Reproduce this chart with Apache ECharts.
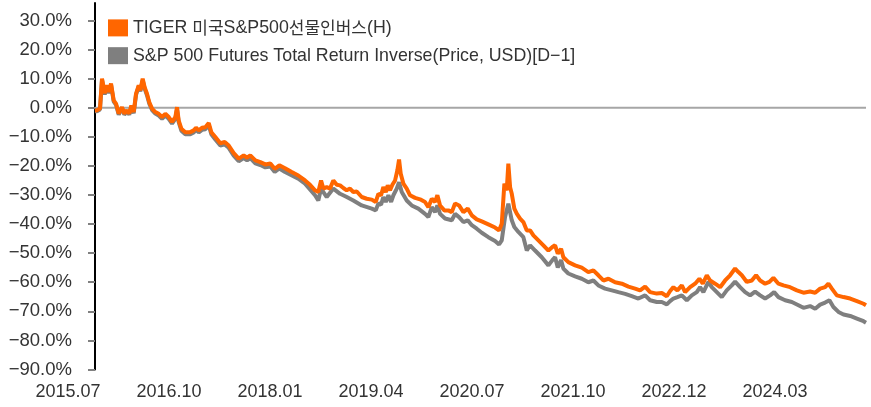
<!DOCTYPE html>
<html>
<head>
<meta charset="utf-8">
<script src="https://cdn.jsdelivr.net/npm/echarts@6/dist/echarts.min.js"></script>
<style>
  html, body { margin: 0; padding: 0; background: #fff; }
  #chart { width: 871px; height: 407px; }
</style>
</head>
<body>
<div id="chart"></div>
<script>
// x in nominal months since 2015.07 (label step = 15)
const tickPos = [0, 15, 30, 45, 60, 75, 90, 105];
const tickLabels = ['2015.07', '2016.10', '2018.01', '2019.04', '2020.07', '2021.10', '2022.12', '2024.03'];
const yTicks = [-90, -80, -70, -60, -50, -40, -30, -20, -10, 0, 10, 20, 30];

const tigerName = 'TIGER 미국S&P500선물인버스(H)';
const spxName = 'S&P 500 Futures Total Return Inverse(Price, USD)[D\u22121]';

const tigerX = [4.0, 4.3, 4.75, 5.05, 5.45, 5.79, 6.09, 6.39, 6.79, 7.13, 7.53, 8.02, 8.36, 8.76, 9.10, 9.40, 9.76,
  10.10, 10.50, 10.74, 11.09, 11.39, 11.73, 12.07, 12.48, 12.97, 13.47, 13.96, 14.45, 14.96, 15.45, 15.94, 16.19,
  16.44, 16.83, 17.42, 18.16, 18.67, 19.01, 19.41, 19.90, 20.39, 20.90, 21.28, 21.88, 22.62, 23.27, 23.87, 24.61,
  25.35, 26.09, 26.59, 27.07, 27.82, 28.56, 29.30, 30.05, 30.70, 31.38, 32.23, 33.22, 34.20, 35.20, 35.94, 36.68,
  37.17, 37.58, 37.92, 38.42, 38.91, 39.40, 39.91, 40.40, 40.89, 41.39, 41.88, 42.37, 42.88, 43.62, 44.36, 45.11,
  45.70, 46.09, 46.49, 46.83, 47.19, 47.48, 47.82, 48.17, 48.57, 48.91, 49.16, 49.41, 49.80, 50.30, 50.79, 51.54,
  52.28, 53.02, 53.51, 54.02, 54.51, 54.85, 55.25, 55.89, 56.48, 56.99, 57.48, 58.07, 58.71, 59.36, 59.96, 60.70,
  61.44, 62.42, 63.42, 64.01, 64.41, 64.80, 65.15, 65.39, 65.65, 65.90, 66.28, 66.64, 67.13, 67.62, 68.13, 68.62,
  69.11, 69.85, 70.59, 71.34, 71.93, 72.33, 72.73, 73.22, 73.56, 74.30, 75.30, 76.29, 77.27, 78.02, 78.76, 79.50,
  80.25, 81.24, 82.24, 83.22, 84.21, 84.95, 85.70, 86.44, 87.43, 88.18, 88.92, 89.41, 89.90, 90.49, 91.15, 91.64,
  92.38, 93.12, 93.76, 94.27, 94.86, 95.35, 96.09, 96.84, 97.58, 98.32, 99.06, 99.55, 100.06, 100.80, 101.54,
  102.18, 102.78, 103.52, 104.16, 104.75, 105.50, 106.24, 107.23, 108.23, 109.21, 110.20, 110.95, 111.69, 112.43,
  112.92, 113.43, 114.17, 115.16, 116.15, 117.15, 118.13, 118.5];
const tigerY = [-1.0, -0.9, -0.3, 10.0, 5.0, 7.7, 5.4, 8.3, 2.5, 1.4, -2.0, 0.2, -2.0, -0.9, -2.0, 0.8, -1.5,
  4.8, 7.7, 6.0, 10.0, 7.0, 4.8, 1.9, -0.3, -1.5, -2.1, -3.2, -2.1, -3.2, -4.9, -3.2, 0.2,
  -4.4, -7.2, -8.4, -8.4, -7.8, -6.9, -7.8, -6.9, -6.7, -5.3, -8.4, -10.1, -12.2, -11.8, -13.0, -15.6,
  -17.5, -16.4, -17.2, -16.4, -18.1, -18.7, -19.5, -19.2, -21.0, -19.8, -20.8, -22.1, -23.3, -25.0, -26.5, -28.4,
  -29.0, -25.0, -27.8, -27.3, -27.8, -25.0, -26.5, -26.7, -27.6, -28.4, -27.8, -29.0, -28.8, -30.7, -31.3, -31.6,
  -32.4, -29.6, -30.1, -27.3, -29.0, -26.7, -28.4, -26.5, -25.0, -21.5, -17.8, -22.7, -26.1, -27.8, -30.1, -31.0,
  -31.5, -32.4, -34.2, -31.3, -32.4, -30.1, -33.6, -35.3, -35.3, -35.9, -32.9, -33.6, -35.9, -34.7, -37.0, -38.4,
  -39.1, -40.1, -41.2, -42.2, -39.9, -26.1, -28.4, -19.2, -27.3, -29.6, -34.7, -36.4, -38.1, -39.3, -42.2, -42.2,
  -43.9, -45.6, -47.3, -49.1, -47.9, -47.3, -50.2, -48.5, -51.4, -53.1, -54.2, -55.0, -56.5, -55.9, -57.6, -59.4,
  -58.8, -60.0, -60.5, -61.5, -62.2, -62.8, -61.5, -63.4, -63.9, -63.7, -64.8, -63.0, -61.7, -62.8, -61.1, -63.4,
  -61.7, -60.5, -58.8, -60.5, -57.6, -59.4, -60.5, -61.7, -59.4, -57.6, -55.3, -56.5, -57.6, -59.9, -59.4,
  -57.6, -59.4, -60.5, -59.9, -58.5, -60.5, -61.1, -61.7, -62.8, -63.6, -63.2, -63.6, -62.2, -61.7,
  -60.5, -62.2, -64.5, -65.1, -65.6, -66.5, -67.4, -67.9];

const spxX = [4.0, 4.3, 4.75, 5.05, 5.45, 5.79, 6.09, 6.39, 6.79, 7.13, 7.53, 8.02, 8.36, 8.76, 9.10, 9.40, 9.76,
  10.10, 10.50, 10.74, 11.09, 11.39, 11.73, 12.07, 12.48, 12.97, 13.47, 13.96, 14.45, 14.96, 15.45, 15.94, 16.19,
  16.44, 16.83, 17.42, 18.16, 18.67, 19.01, 19.41, 19.90, 20.39, 20.90, 21.28, 21.88, 22.62, 23.27, 23.87, 24.61,
  25.35, 26.09, 26.59, 27.07, 27.82, 28.56, 29.30, 30.05, 30.70, 31.38, 32.23, 34.20, 35.20, 36.68, 37.17, 37.58,
  38.42, 39.40, 40.40, 41.39, 42.37, 43.62, 45.11, 45.70, 46.09, 46.49, 46.83, 47.19, 47.58, 47.98, 48.32, 48.82,
  49.16, 49.56, 50.30, 51.04, 52.02, 53.02, 53.51, 54.02, 54.51, 54.85, 55.25, 55.99, 56.99, 57.48, 58.07, 58.71,
  59.36, 59.96, 60.70, 61.44, 62.42, 63.42, 64.01, 64.41, 64.90, 65.39, 65.90, 66.28, 66.88, 67.62, 68.13, 68.62,
  69.36, 70.35, 71.34, 71.93, 72.33, 72.73, 73.22, 73.56, 74.30, 75.30, 76.29, 77.27, 78.02, 78.76, 79.75, 80.75,
  81.73, 82.73, 83.72, 84.70, 85.70, 86.44, 87.43, 88.18, 88.92, 89.41, 89.90, 90.49, 91.15, 91.89, 92.63, 93.37,
  93.86, 94.35, 95.10, 95.60, 96.34, 97.08, 97.82, 98.57, 99.06, 99.80, 100.55, 101.29, 102.03, 102.78, 103.52,
  104.26, 104.86, 105.50, 106.49, 107.49, 108.47, 109.21, 110.20, 110.95, 111.69, 112.43, 113.07, 113.66, 114.41,
  115.16, 116.15, 117.15, 118.13, 118.5];
const spxY = [-1.2, -1.2, -0.6, 9.6, 4.6, 7.3, 5.0, 7.9, 2.1, 1.0, -2.4, -0.2, -2.4, -1.3, -2.4, 0.4, -1.9,
  4.4, 7.3, 5.6, 9.5, 6.5, 4.3, 1.4, -0.8, -2.0, -2.7, -3.8, -2.7, -3.8, -5.5, -3.8, -0.5,
  -5.0, -7.9, -9.1, -9.1, -8.5, -7.6, -8.5, -7.6, -7.4, -6.0, -9.1, -10.9, -13.0, -12.6, -13.8, -16.5,
  -18.4, -17.3, -18.1, -17.3, -19.1, -19.7, -20.5, -20.2, -22.1, -20.9, -22.1, -24.4, -26.1, -30.1, -31.9, -27.8,
  -30.7, -27.8, -29.6, -30.7, -31.9, -33.6, -34.7, -35.3, -32.9, -33.3, -30.7, -32.4, -30.1, -32.4, -30.1, -27.8,
  -25.6, -29.0, -31.9, -33.6, -34.7, -36.5, -37.6, -34.2, -35.9, -33.6, -36.5, -38.1, -38.7, -36.5, -37.6, -39.3,
  -38.7, -40.4, -41.6, -43.0, -44.5, -45.8, -47.0, -45.6, -37.6, -33.0, -38.7, -41.0, -42.7, -44.5, -49.1, -47.3,
  -49.1, -51.4, -54.2, -52.4, -51.4, -54.9, -52.4, -55.3, -57.0, -58.0, -58.8, -60.0, -59.4, -61.1, -62.2, -62.8,
  -63.4, -64.0, -64.8, -65.6, -64.5, -66.2, -66.8, -66.8, -67.6, -66.5, -65.6, -65.1, -64.5, -66.2, -64.5, -63.4,
  -61.7, -63.4, -59.9, -61.7, -63.4, -65.1, -62.8, -61.1, -59.8, -61.7, -63.4, -64.5, -63.2, -64.5, -65.6,
  -64.5, -63.4, -65.1, -66.2, -66.8, -67.9, -68.8, -68.2, -69.1, -67.7, -67.0, -66.2, -68.5, -70.2,
  -71.1, -71.6, -72.5, -73.4, -73.9];

const zip = (xs, ys) => xs.map((x, i) => [x, ys[i]]);
const fontFamily = '"Liberation Sans", Arial, "Noto Sans CJK KR", sans-serif';
const pct = v => (v.toFixed(1) + '%').replace('-', '\u2212');

// legend: Latin runs slightly larger than Hangul runs
const legendText = name => name
  .split(/([\uAC00-\uD7A3]+)/)
  .filter(s => s.length)
  .map(s => (/[\uAC00-\uD7A3]/.test(s) ? '{k|' : '{a|') + s + '}')
  .join('');

const chart = echarts.init(document.getElementById('chart'), null, { renderer: 'canvas' });
chart.setOption({
  animation: false,
  backgroundColor: '#ffffff',
  textStyle: { fontFamily: fontFamily },
  grid: { left: 68, right: 5, top: 3, bottom: 37.5, containLabel: false },
  legend: {
    data: [tigerName, spxName],
    orient: 'vertical',
    left: 103,
    top: 14,
    icon: 'rect',
    itemWidth: 20,
    itemHeight: 17,
    itemGap: 10,
    formatter: legendText,
    textStyle: {
      fontSize: 17.8,
      color: '#333333',
      fontFamily: fontFamily,
      rich: {
        a: { fontSize: 17.8, color: '#333333', fontFamily: fontFamily },
        k: { fontSize: 17, color: '#333333', fontFamily: '"Noto Sans CJK KR", sans-serif' }
      }
    }
  },
  xAxis: {
    type: 'value',
    min: 0,
    max: 118.5,
    axisLine: { show: false },
    axisTick: { show: false },
    splitLine: { show: false },
    axisLabel: {
      customValues: tickPos,
      formatter: v => tickLabels[tickPos.indexOf(v)] || '',
      fontSize: 18,
      color: '#333333',
      margin: 14,
      fontFamily: fontFamily
    }
  },
  yAxis: {
    type: 'value',
    min: -90,
    max: 36,
    offset: -27,
    axisLine: { show: true, lineStyle: { color: '#000000', width: 2 } },
    axisTick: { show: true, customValues: yTicks, length: 7, lineStyle: { color: '#808080', width: 2 } },
    splitLine: { show: false },
    axisLabel: {
      customValues: yTicks,
      formatter: pct,
      fontSize: 18.5,
      color: '#333333',
      margin: 23,
      fontFamily: fontFamily
    }
  },
  series: [
    {
      name: 'zero',
      type: 'line',
      silent: true,
      symbol: 'none',
      data: [[tigerX[0], 0], [tigerX[tigerX.length - 1], 0]],
      lineStyle: { color: '#A6A6A6', width: 2 },
      z: 1
    },
    {
      name: spxName,
      type: 'line',
      symbol: 'none',
      data: zip(spxX, spxY),
      itemStyle: { color: '#7F7F7F' },
      lineStyle: { color: '#7F7F7F', width: 4 },
      z: 2
    },
    {
      name: tigerName,
      type: 'line',
      symbol: 'none',
      data: zip(tigerX, tigerY),
      itemStyle: { color: '#FF6600' },
      lineStyle: { color: '#FF6600', width: 4 },
      z: 3
    }
  ]
});
</script>
</body>
</html>
